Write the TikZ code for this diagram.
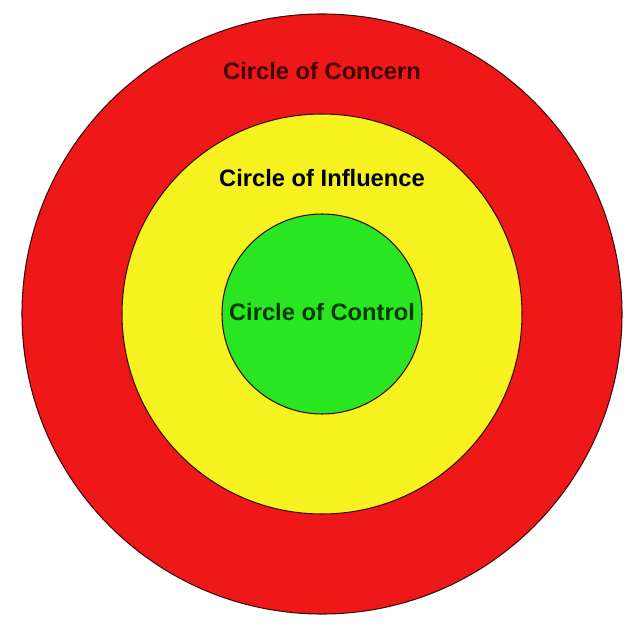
\documentclass[tikz,border=0pt]{standalone}
\usepackage{fontspec}
\setmainfont{Liberation Sans}
\usepackage{tikz}
\usetikzlibrary{positioning}
\usepackage{xcolor}
\definecolor{concernred}{RGB}{238,24,24}
\definecolor{influenceyellow}{RGB}{246,242,32}
\definecolor{controlgreen}{RGB}{42,230,32}
\definecolor{ringline}{RGB}{60,10,10}

\begin{document}
\begin{tikzpicture}[
  ring/.style={circle,draw=ringline,line width=0.6pt,inner sep=0pt,outer sep=0pt},
  lbl/.style={font=\fontsize{13.5}{16}\selectfont\bfseries,anchor=base,inner sep=0pt}
]
  \useasboundingbox (-6.44,-6.6) rectangle (6.44,6.28);

  %% ---- rings (outer to inner, same centre) ----
  \node[ring,fill=concernred,minimum size=12cm] (concern) at (0,0) {};
  \node[ring,fill=influenceyellow,minimum size=8cm] (influence) at (0,0) {};
  \node[ring,fill=controlgreen,minimum size=4cm] (control) at (0,0) {};

  %% ---- labels ----
  \node[lbl,text=black!75!red] (concernlbl) at (0,4.68) {Circle of Concern};
  \node[lbl,text=black] (influencelbl) at (0,2.54) {Circle of Influence};
  \node[lbl,text=black!78!green] (controllbl) at (0,-0.14) {Circle of Control};
\end{tikzpicture}
\end{document}
